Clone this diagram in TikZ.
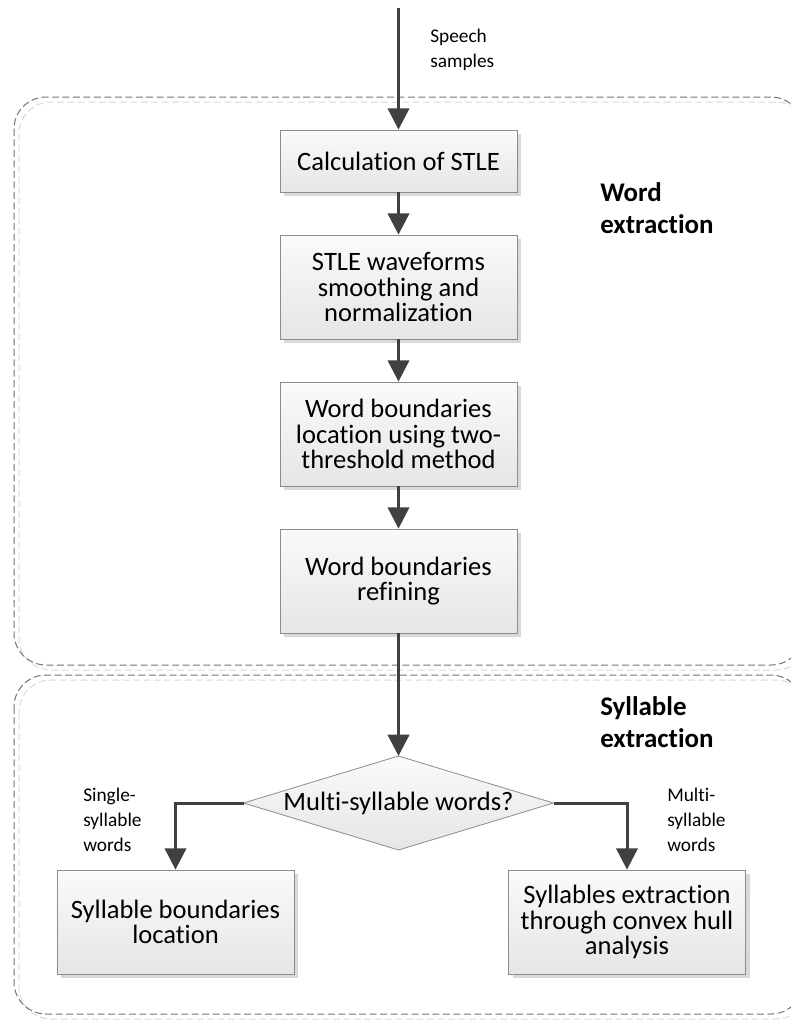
\documentclass[tikz,border=0pt]{standalone}
\usepackage{fontspec}
\setmainfont{Carlito}[Ligatures=NoCommon]
\usetikzlibrary{shapes.geometric, arrows.meta, shadows}

\begin{document}
\begin{tikzpicture}[x=0.75pt, y=-0.75pt,
        process/.style={draw=black!45, line width=0.6pt, top color=black!2, bottom color=black!10,
            minimum width=177.75pt, minimum height=78pt, inner sep=0pt, align=center,
            font=\fontsize{19.9}{18.9}\selectfont,
            drop shadow={shadow xshift=3pt, shadow yshift=-3pt, fill=black!15, opacity=1}},
        decision/.style={diamond, aspect=3.3, draw=black!45, line width=0.6pt, top color=black!2, bottom color=black!10,
            minimum width=232.5pt, minimum height=70.5pt, inner sep=0pt, outer sep=0pt,
            font=\fontsize{19.9}{18.9}\selectfont},
        flow/.style={draw=black!75, line width=2.25pt, -{Triangle[width=16pt, length=16pt]}},
        note/.style={anchor=west, align=left, inner sep=0pt, font=\fontsize{14.5}{19}\selectfont},
        stage/.style={anchor=west, align=left, inner sep=0pt, font=\fontsize{20.2}{24}\selectfont\bfseries},
        group/.style={draw=black!55, line width=0.75pt, dash pattern=on 5.25pt off 2.6pt, rounded corners=24pt},
        groupshade/.style={group, draw=black!15}]
        \useasboundingbox (0,0) rectangle (791,1021);
        \clip (0,0) rectangle (791,1021);

        % Grupos tracejados
        \draw[groupshade] (19,102) rectangle (808,670);
        \draw[group] (14,97) rectangle (803,665);
        \draw[groupshade] (19,680) rectangle (808,1019);
        \draw[group] (14,675) rectangle (803,1014);

        % Etapas de extracao de palavras
        \coordinate (input) at (398.5,8);
        \node[process, minimum height=46.5pt] (stle) at (398.5,161) {Calculation of STLE};
        \node[process] (smooth) at (398.5,287) {STLE waveforms\\smoothing and\\normalization};
        \node[process] (locate) at (398.5,434) {Word boundaries\\location using two-\\threshold method};
        \node[process] (refine) at (398.5,581) {Word boundaries\\refining};

        % Etapas de extracao de silabas
        \node[decision] (multi) at (398.5,803) {Multi-syllable words?};
        \node[process] (single) at (175.5,922) {Syllable boundaries\\location};
        \node[process] (hull) at (627,922) {Syllables extraction\\through convex hull\\analysis};

        % Rotulos
        \node[note] (speech) at (430,50) {Speech\\samples};
        \node[note] (lsingle) at (83,820) {Single-\\syllable\\words};
        \node[note] (lmulti) at (667,820) {Multi-\\syllable\\words};
        \node[stage] (wordlbl) at (600,208) {Word\\extraction};
        \node[stage] (syllbl) at (600,722) {Syllable\\extraction};

        % Setas
        \draw[flow] (input) -- (stle);
        \draw[flow] (stle) -- (smooth);
        \draw[flow] (smooth) -- (locate);
        \draw[flow] (locate) -- (refine);
        \draw[flow] (refine) -- (multi);
        \draw[flow] (multi.west) -| (single);
        \draw[flow] (multi.east) -| (hull);
\end{tikzpicture}
\end{document}
